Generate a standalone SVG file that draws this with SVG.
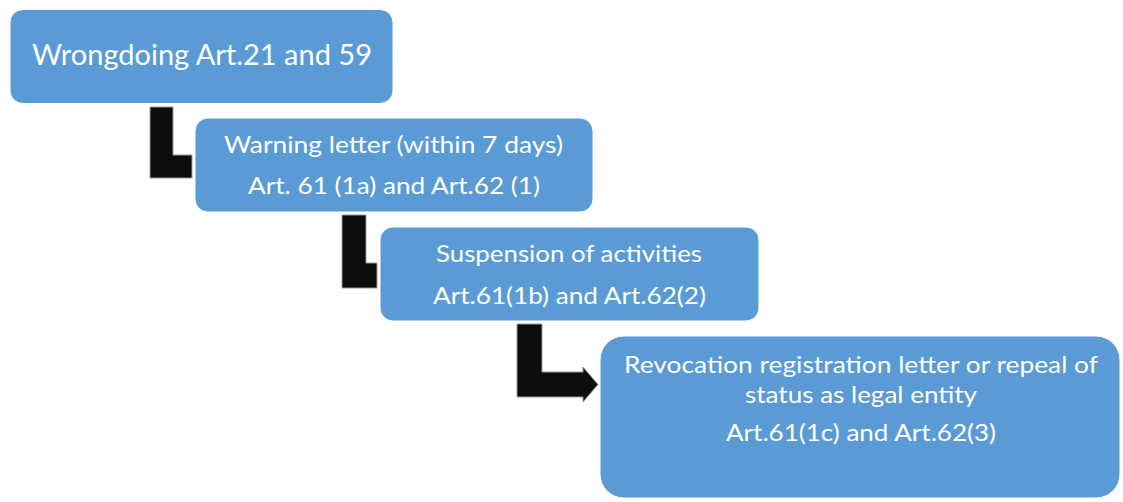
<svg xmlns="http://www.w3.org/2000/svg" width="1123" height="502" viewBox="0 0 1123 502">
<style>
.box{fill:#5B9BD5;stroke:#ffffff;stroke-width:1}
.t{font-family:Lato,"Open Sans","Liberation Sans",sans-serif;fill:#ffffff;text-anchor:middle}
.s{font-size:23px}
.b{font-size:28px}
.arr{fill:#0D0D0D;stroke:#9a9a9a;stroke-width:1}
</style>
<rect width="1123" height="502" fill="#ffffff"/>
<g id="connectors">
<polygon class="arr" points="150,107 173,107 173,155 192,155 192,178 150,178"/>
<polygon class="arr" points="342,215 366,215 366,263 377,263 377,288 342,288"/>
<polygon class="arr" points="517,324 542,324 542,372 583,372 583,367 598,384.5 583,402 583,397 517,397"/>
</g>
<g id="node1">
<rect class="box" x="10" y="9.5" width="383" height="94" rx="13"/>
<text class="t b" x="202" y="64.5" textLength="340" lengthAdjust="spacingAndGlyphs">Wrongdoing Art.21 and 59</text>
</g>
<g id="node2">
<rect class="box" x="195" y="118" width="398" height="94" rx="13"/>
<text class="t s" x="393.5" y="152.5" textLength="339" lengthAdjust="spacingAndGlyphs">Warning letter (within 7 days)</text>
<text class="t s" x="394" y="193.5" textLength="292" lengthAdjust="spacingAndGlyphs">Art. 61 (1a) and Art.62 (1)</text>
</g>
<g id="node3">
<rect class="box" x="380" y="227" width="379" height="94" rx="13"/>
<text class="t s" x="569" y="262" textLength="266" lengthAdjust="spacingAndGlyphs">Suspension of activities</text>
<text class="t s" x="569.5" y="303.5" textLength="273" lengthAdjust="spacingAndGlyphs">Art.61(1b) and Art.62(2)</text>
</g>
<g id="node4">
<rect class="box" x="600" y="336" width="520" height="162" rx="24"/>
<text class="t s" x="861" y="373" textLength="474" lengthAdjust="spacingAndGlyphs">Revocation registration letter or repeal of</text>
<text class="t s" x="861" y="403" textLength="232" lengthAdjust="spacingAndGlyphs">status as legal entity</text>
<text class="t s" x="861" y="441" textLength="270" lengthAdjust="spacingAndGlyphs">Art.61(1c) and Art.62(3)</text>
</g>
</svg>
